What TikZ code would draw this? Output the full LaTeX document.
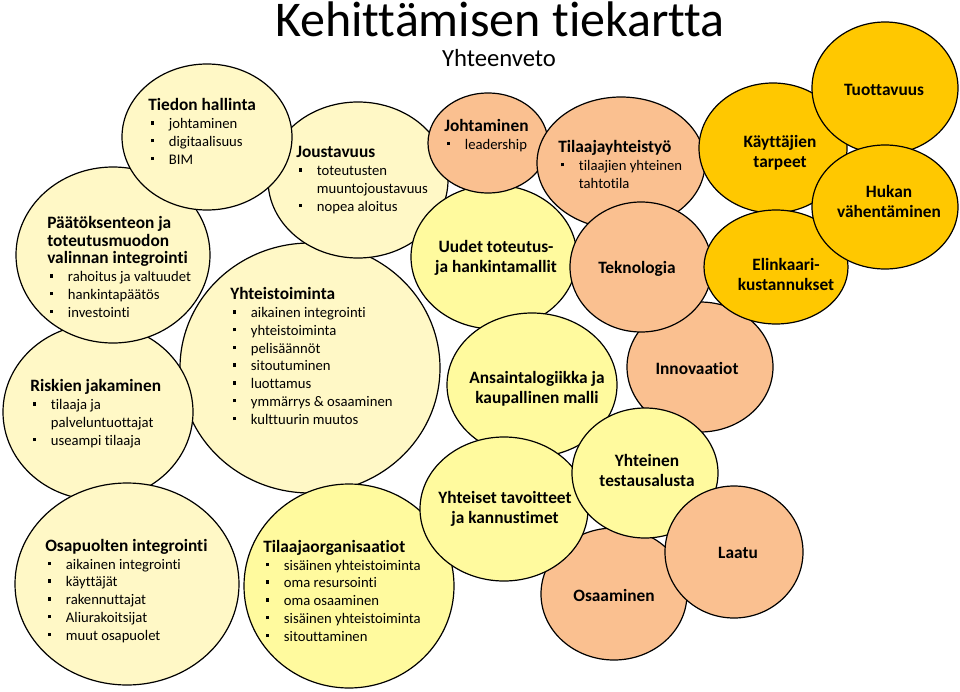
\documentclass[tikz,border=0pt]{standalone}
\usepackage{fontspec}
\setmainfont{Carlito}[Ligatures={NoCommon}]
\usetikzlibrary{shapes.geometric}
\definecolor{paleyel}{HTML}{FFF8C6}
\definecolor{brightyel}{HTML}{FFFA9E}
\definecolor{salmon}{HTML}{FAC090}
\definecolor{golden}{HTML}{FFC800}
\newcommand{\blt}{\makebox[15.5pt][l]{\hspace{2pt}\rule[3pt]{2.6pt}{2.6pt}}}
\newcommand{\cnt}{\hspace*{15.5pt}}
\newcommand{\hdr}[1]{{\fontsize{13}{13.3}\selectfont\bfseries #1}}
\begin{document}
\begin{tikzpicture}[x=0.75pt,y=-0.75pt,
  bubble/.style 2 args={ellipse,draw,line width=0.9pt,inner sep=0pt,minimum width=#1*1.5pt,minimum height=#2*1.5pt},
  pale/.style={fill=paleyel},
  bright/.style={fill=brightyel},
  peach/.style={fill=salmon},
  gold/.style={fill=golden},
  txt/.style={inner sep=0pt,anchor=base west,align=left,font=\fontsize{11}{13.3}\selectfont},
  lab/.style={inner sep=0pt,anchor=base,align=center,font=\fontsize{13}{14.3}\selectfont\bfseries}]
\useasboundingbox (0,0) rectangle (960,692);
% bubbles, back to front
\node[bubble={130}{125},pale] (yhteis) at (310,368) {};
\node[bubble={95}{88},pale] (riskit) at (98,412) {};
\node[bubble={112}{101},pale] (osap) at (127,584) {};
\node[bubble={97}{88},pale] (paatos) at (113,255) {};
\node[bubble={90}{78},pale] (jousto) at (358,180) {};
\node[bubble={85}{73},pale] (tieto) at (207,137) {};
\node[bubble={105}{102},bright] (tilorg) at (349,586) {};
\node[bubble={83}{72},bright] (uudet) at (494,257) {};
\node[bubble={60}{50},peach] (johto) at (488,143) {};
\node[bubble={84}{66},peach] (tilyht) at (621,163) {};
\node[bubble={73}{65},peach] (innov) at (700,367) {};
\node[bubble={71}{65},peach] (tekno) at (641,267) {};
\node[bubble={85}{72},bright] (ansio) at (532,385) {};
\node[bubble={73}{66},peach] (osaam) at (614,594) {};
\node[bubble={84}{72},bright] (tavoit) at (504,509) {};
\node[bubble={73}{65},bright] (testi) at (645,473) {};
\node[bubble={69}{66},peach] (laatu) at (734,552) {};
\node[bubble={74}{65},gold] (tarve) at (773,148) {};
\node[bubble={72}{57},gold] (elink) at (776,267) {};
\node[bubble={73}{66},gold] (tuott) at (885,88) {};
\node[bubble={73}{62},gold] (hukka) at (885,207) {};
% title
\node[anchor=base,inner sep=0pt,font=\fontsize{37.5}{40}\selectfont] (otsikko) at (500,37) {Kehittämisen tiekartta};
\node[anchor=base,inner sep=0pt,font=\fontsize{18.5}{20}\selectfont] (ala) at (499,67) {Yhteenveto};
% texts with bullets (base = last line)
\node[txt] (tieto-t) at (148,164) {\hdr{Tiedon hallinta}\\\blt johtaminen\\\blt digitaalisuus\\\blt BIM};
\node[txt] (paatos-t) at (47,317) {\hdr{Päätöksenteon ja}\\\hdr{toteutusmuodon}\\\hdr{valinnan integrointi}\\\blt rahoitus ja valtuudet\\\blt hankintapäätös\\\blt investointi};
\node[txt] (riskit-t) at (30,445) {\hdr{Riskien jakaminen}\\\blt tilaaja ja\\\cnt palveluntuottajat\\\blt useampi tilaaja};
\node[txt] (osap-t) at (45,640) {\hdr{Osapuolten integrointi}\\\blt aikainen integrointi\\\blt käyttäjät\\\blt rakennuttajat\\\blt Aliurakoitsijat\\\blt muut osapuolet};
\node[txt] (jousto-t) at (296,211) {\hdr{Joustavuus}\\\blt toteutusten\\\cnt muuntojoustavuus\\\blt nopea aloitus};
\node[txt] (yhteis-t) at (230,424) {\hdr{Yhteistoiminta}\\\blt aikainen integrointi\\\blt yhteistoiminta\\\blt pelisäännöt\\\blt sitoutuminen\\\blt luottamus\\\blt ymmärrys \& osaaminen\\\blt kulttuurin muutos};
\node[txt] (tilorg-t) at (263,641) {\hdr{Tilaajaorganisaatiot}\\\blt sisäinen yhteistoiminta\\\blt oma resursointi\\\blt oma osaaminen\\\blt sisäinen yhteistoiminta\\\blt sitouttaminen};
\node[txt] (johto-t) at (444,149) {\hdr{Johtaminen}\\\blt leadership};
\node[txt] (tilyht-t) at (558,188) {\hdr{Tilaajayhteistyö}\\\blt tilaajien yhteinen\\\cnt tahtotila};
% plain labels
\node[lab] (uudet-t) at (496,272) {Uudet toteutus-\\ja hankintamallit};
\node[lab] (tekno-t) at (637,273) {Teknologia};
\node[lab] (ansio-t) at (537,403) {Ansaintalogiikka ja\\kaupallinen malli};
\node[lab] (innov-t) at (697,374) {Innovaatiot};
\node[lab] (testi-t) at (647,486) {Yhteinen\\testausalusta};
\node[lab] (tavoit-t) at (505,523) {Yhteiset tavoitteet\\ja kannustimet};
\node[lab] (osaam-t) at (614,601) {Osaaminen};
\node[lab] (laatu-t) at (738,558) {Laatu};
\node[lab] (tarve-t) at (780,167) {Käyttäjien\\tarpeet};
\node[lab] (tuott-t) at (884,95) {Tuottavuus};
\node[lab] (hukka-t) at (889,217) {Hukan\\vähentäminen};
\node[lab] (elink-t) at (786,290) {Elinkaari-\\kustannukset};
\end{tikzpicture}
\end{document}
